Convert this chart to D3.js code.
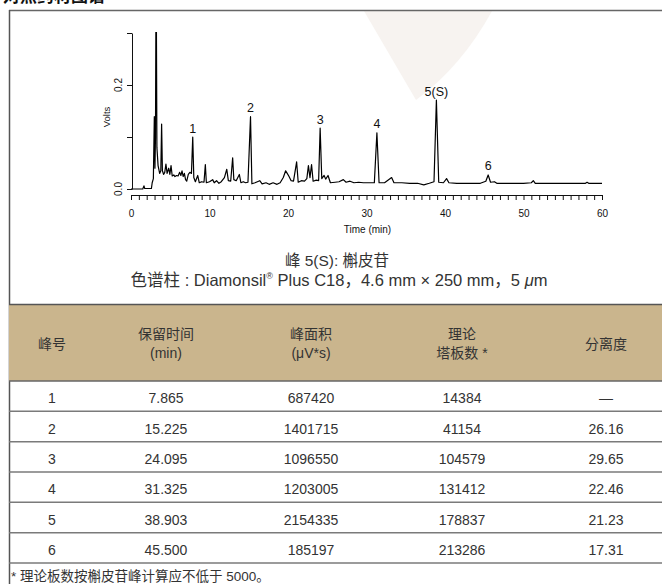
<!DOCTYPE html>
<html><head><meta charset="utf-8">
<script src="https://cdn.jsdelivr.net/npm/d3@7"></script>
<style>body{margin:0;background:#fff;overflow:hidden} svg{display:block}</style>
</head><body>
<script>
// ---- data ----
const traceTime = [0,1.5,1.65,1.75,2.6,2.7,2.85,2.97,3.05,3.12,3.2,3.3,3.45,3.65,3.8,3.9,4.0,4.15,4.3,4.45,4.6,4.8,4.95,5.1,5.25,5.45,5.6,5.8,6.0,6.2,6.35,6.5,6.65,6.8,6.95,7.1,7.3,7.5,7.7,7.865,8.0,8.2,8.5,8.7,9.0,9.3,9.47,9.6,10.0,10.4,10.6,10.9,11.2,11.5,11.9,12.2,12.4,12.7,12.95,13.1,13.4,13.8,14.0,14.3,14.6,14.9,15.225,15.4,15.8,16.4,16.7,17.2,17.6,18.1,18.6,19.0,19.4,19.7,19.9,20.1,20.4,20.7,21.1,21.3,21.7,22.1,22.4,22.6,22.8,23.0,23.2,23.6,23.9,24.095,24.3,24.6,24.8,25.1,25.4,26.0,26.5,27.05,27.4,27.9,28.4,29.0,29.6,30.3,31.0,31.325,31.6,32.3,33.2,33.5,34.5,35.5,36.5,37.3,38.0,38.6,38.903,39.2,39.8,40.2,40.5,41.5,42.5,43.5,44.5,45.2,45.5,45.8,46.3,46.6,48.0,50.0,51.0,51.25,51.5,54.0,57.9,58.1,58.3,60.0];
const traceVolts = [0.000,0.000,0.006,0.001,0.001,0.012,0.020,0.139,0.040,0.100,0.450,0.080,0.045,0.030,0.035,0.125,0.035,0.028,0.032,0.048,0.030,0.040,0.028,0.045,0.025,0.027,0.024,0.026,0.025,0.032,0.026,0.035,0.024,0.030,0.018,0.015,0.028,0.032,0.030,0.100,0.022,0.014,0.026,0.012,0.014,0.013,0.047,0.012,0.014,0.018,0.012,0.016,0.011,0.014,0.022,0.038,0.016,0.015,0.060,0.018,0.016,0.028,0.012,0.014,0.012,0.013,0.139,0.010,0.012,0.016,0.010,0.012,0.009,0.012,0.009,0.012,0.022,0.035,0.030,0.025,0.016,0.015,0.052,0.013,0.016,0.015,0.020,0.045,0.022,0.047,0.015,0.017,0.016,0.117,0.020,0.026,0.019,0.026,0.012,0.013,0.014,0.018,0.013,0.015,0.012,0.013,0.012,0.012,0.012,0.108,0.012,0.012,0.022,0.012,0.012,0.011,0.011,0.008,0.011,0.014,0.171,0.013,0.012,0.020,0.012,0.011,0.011,0.011,0.011,0.015,0.027,0.013,0.014,0.011,0.011,0.011,0.012,0.016,0.011,0.011,0.011,0.013,0.011,0.011];
const peakNames = ["1","2","3","4","5(S)","6"];
const peakTimes = [7.865,15.225,24.095,31.325,38.903,45.5];
const peakHeights = [0.100,0.139,0.117,0.108,0.171,0.027];
const xTickValues = [0,10,20,30,40,50,60];
const yTickValues = [0,0.1,0.2,0.3];
const yTickLabels = ["0.0","","0.2",""];
const headerLines = [["峰号"],["保留时间","(min)"],["峰面积","(μV*s)"],["理论","塔板数 *"],["分离度"]];
const colPeak = ["1","2","3","4","5","6"];
const colRetention = ["7.865","15.225","24.095","31.325","38.903","45.500"];
const colArea = ["687420","1401715","1096550","1203005","2154335","185197"];
const colPlates = ["14384","41154","104579","131412","178837","213286"];
const colResolution = ["—","26.16","29.65","22.46","21.23","17.31"];

// ---- drawing ----
const W = 662, H = 584;
const LAT = "'Liberation Sans', Arial, 'Noto Sans CJK SC', sans-serif";
const CJK = "'Liberation Sans', 'Noto Sans CJK SC', sans-serif";
const svg = d3.select("body").append("svg").attr("width", W).attr("height", H);

// title (cut off at top, as in the source page)
svg.append("text").attr("x", 3).attr("y", 2).attr("font-family", "'Noto Sans CJK SC'")
  .attr("font-weight", "bold").attr("font-size", 17).attr("fill", "#111").text("对照药材图谱");

// watermark
svg.append("path").attr("d", "M364,11 L416,100 Q462,66 492,11 Z").attr("fill", "#f7f3f0");

// outer box lines
svg.append("line").attr("x1", 9).attr("x2", W).attr("y1", 10.5).attr("y2", 10.5).attr("stroke", "#666").attr("stroke-width", 1.5);
svg.append("line").attr("x1", 9.5).attr("x2", 9.5).attr("y1", 10).attr("y2", H).attr("stroke", "#555").attr("stroke-width", 1.5);

// chart
const x = d3.scaleLinear().domain([0, 60]).range([131, 602]);
const y = d3.scaleLinear().domain([0, 0.3]).range([189, 33]);

svg.append("clipPath").attr("id", "clip").append("rect").attr("x", 125).attr("y", 32).attr("width", 490).attr("height", 170);

const line = d3.line().x(d => x(d[0])).y(d => y(d[1]));
svg.append("path").datum(traceTime.map((t, i) => [t, traceVolts[i]]))
  .attr("d", line).attr("fill", "none").attr("stroke", "#000").attr("stroke-width", 1.2)
  .attr("stroke-linejoin", "round").attr("clip-path", "url(#clip)");

// x axis
const xAxis = d3.axisBottom(x).tickValues(d3.range(0, 61, 1)).tickSize(5).tickSizeOuter(0)
  .tickFormat(d => xTickValues.includes(d) ? String(d) : "");
const gx = svg.append("g").attr("transform", "translate(0,195)").call(xAxis);
gx.selectAll("text").attr("font-family", LAT).attr("font-size", 10).attr("dy", 0).attr("y", 21.7).attr("fill", "#111");
gx.selectAll("line").attr("stroke", "#111");
gx.select(".domain").attr("stroke", "#111");
svg.append("text").attr("x", 367.5).attr("y", 233).attr("text-anchor", "middle")
  .attr("font-family", LAT).attr("font-size", 10).attr("fill", "#111").text("Time (min)");

// y axis
const yAxis = d3.axisLeft(y).tickValues(yTickValues).tickSize(5).tickSizeOuter(0).tickFormat("");
const gy = svg.append("g").attr("transform", "translate(132,0)").call(yAxis);
gy.selectAll("line").attr("stroke", "#111");
gy.select(".domain").attr("stroke", "#111");
yTickValues.forEach((v, i) => {
  if (!yTickLabels[i]) return;
  svg.append("text").attr("transform", `translate(122,${y(v)}) rotate(-90)`).attr("text-anchor", "middle")
    .attr("font-family", LAT).attr("font-size", 10).attr("fill", "#111").text(yTickLabels[i]);
});
svg.append("text").attr("transform", "translate(110,117) rotate(-90)").attr("text-anchor", "middle")
  .attr("font-family", LAT).attr("font-size", 9.5).attr("fill", "#111").text("Volts");

// peak labels
peakNames.forEach((n, i) => {
  svg.append("text").attr("x", x(peakTimes[i])).attr("y", y(peakHeights[i]) - 4.5)
    .attr("text-anchor", "middle").attr("font-family", LAT).attr("font-size", 12.5).attr("fill", "#111").text(n);
});

// captions
svg.append("text").attr("x", 337).attr("y", 266).attr("text-anchor", "middle")
  .attr("font-family", CJK).attr("font-size", 15.5).attr("fill", "#333").text("峰 5(S): 槲皮苷");
const cap = svg.append("text").attr("x", 339).attr("y", 285.5).attr("text-anchor", "middle")
  .attr("font-family", CJK).attr("font-size", 16.5).attr("fill", "#333");
cap.append("tspan").text("色谱柱 : Diamonsil");
cap.append("tspan").attr("font-size", 9).attr("dy", -7).text("®");
cap.append("tspan").attr("dy", 7).text(" Plus C18，4.6 mm × 250 mm，5 ");
cap.append("tspan").attr("font-style", "italic").text("μ");
cap.append("tspan").text("m");

// table
const colX = [52, 166, 311, 462, 606];
svg.append("rect").attr("x", 9).attr("y", 304).attr("width", W - 9).attr("height", 77).attr("fill", "#cab58d");
svg.append("line").attr("x1", 9).attr("x2", W).attr("y1", 304.5).attr("y2", 304.5).attr("stroke", "#555").attr("stroke-width", 1.5);
svg.append("line").attr("x1", 9).attr("x2", W).attr("y1", 381).attr("y2", 381).attr("stroke", "#666").attr("stroke-width", 1.5);
headerLines.forEach((ls, i) => {
  const base = ls.length === 1 ? [348.5] : [338.5, 357.5];
  ls.forEach((t, j) => {
    svg.append("text").attr("x", colX[i]).attr("y", base[j]).attr("text-anchor", "middle")
      .attr("font-family", CJK).attr("font-size", 14).attr("fill", "#333").text(t);
  });
});
const rowH = (563 - 381) / 6;
const cols = [colPeak, colRetention, colArea, colPlates, colResolution];
for (let r = 0; r < 6; r++) {
  const top = 381 + r * rowH;
  svg.append("line").attr("x1", 9).attr("x2", W).attr("y1", top + rowH).attr("y2", top + rowH)
    .attr("stroke", "#7a7a7a").attr("stroke-width", 1.5);
  cols.forEach((c, i) => {
    svg.append("text").attr("x", colX[i]).attr("y", top + rowH / 2 + 7).attr("text-anchor", "middle")
      .attr("font-family", CJK).attr("font-size", 14).attr("fill", "#333").text(c[r]);
  });
}
svg.append("text").attr("x", 11).attr("y", 581).attr("font-family", CJK).attr("font-size", 13.5)
  .attr("fill", "#333").text("* 理论板数按槲皮苷峰计算应不低于 5000。");
</script>
</body></html>
